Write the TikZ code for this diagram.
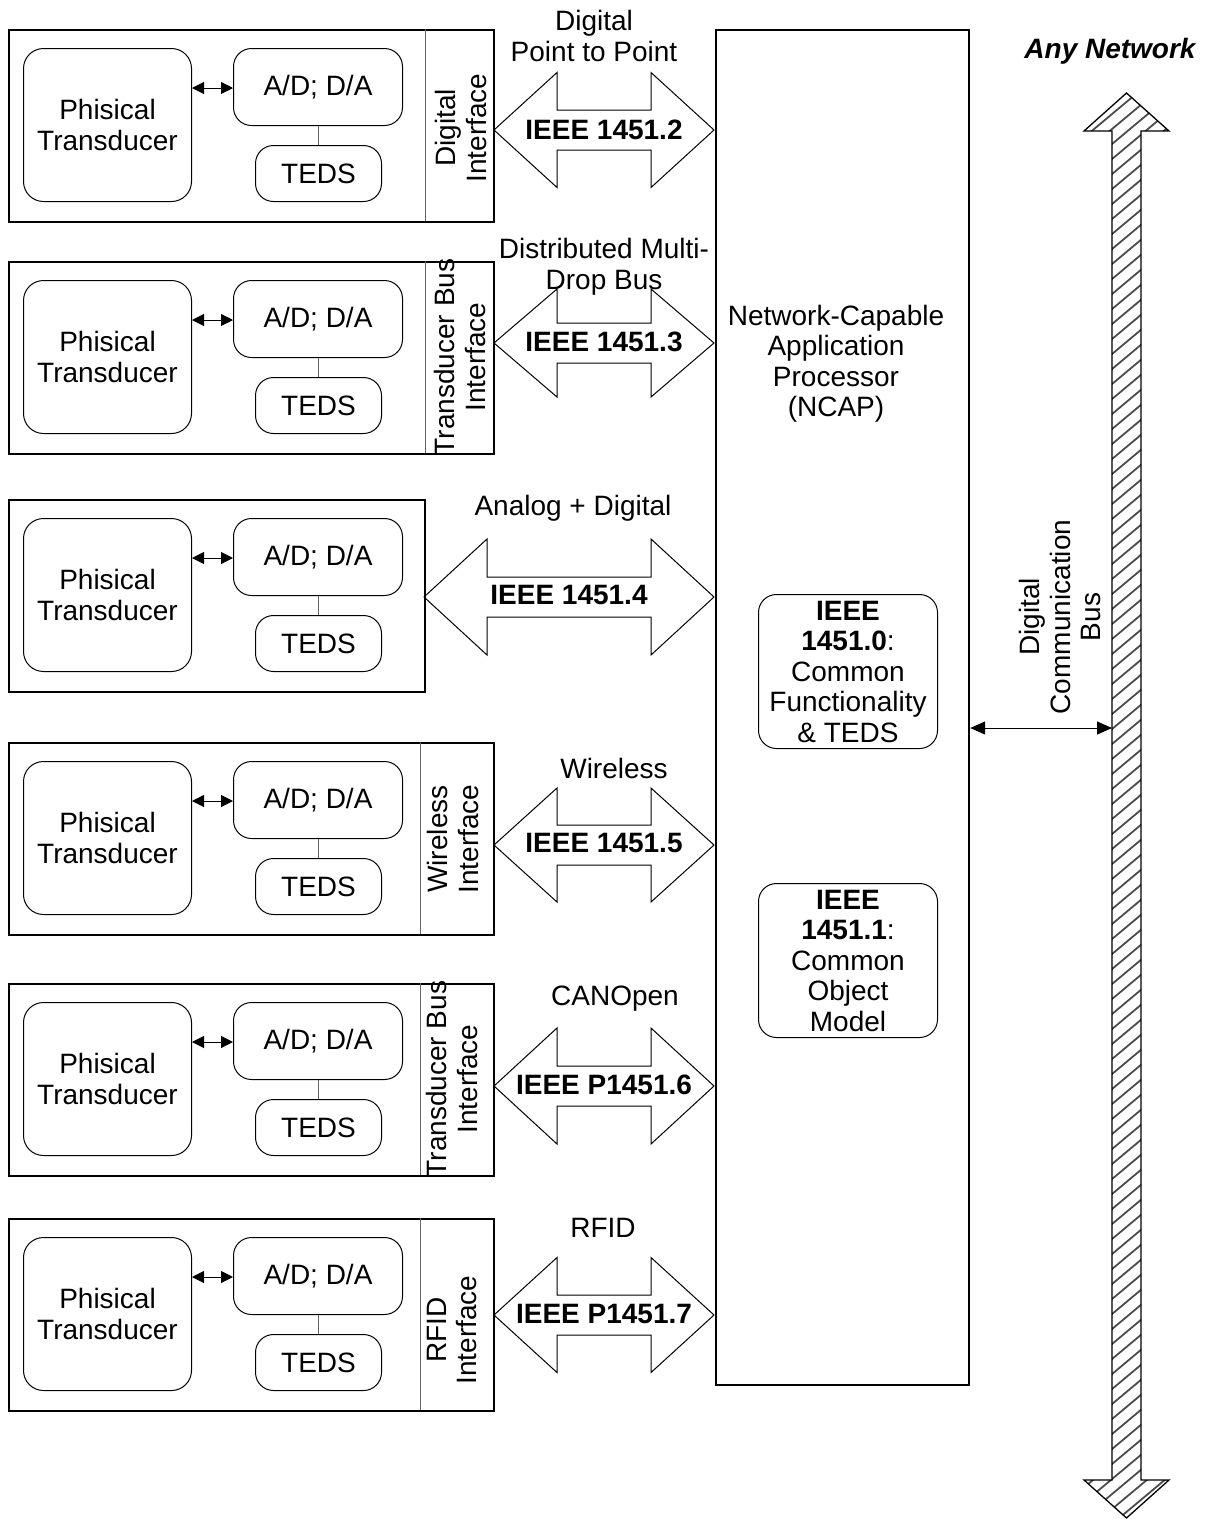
\documentclass[tikz,border=0pt]{standalone}
\usepackage{fontspec}
\setmainfont{Liberation Sans}
\usetikzlibrary{arrows.meta}
\newcommand{\tblock}[3]{%
  \node[outer, anchor=north west, minimum width={#3-8}, minimum height=192] (blk#1) at (8,#2) {};
  \node[rbox, rounded corners=20pt, minimum width=168, minimum height=153, anchor=north west] (pt#1) at (23,{#2+19}) {Phisical\\Transducer};
  \node[rbox, minimum width=169, minimum height=77, anchor=north west] (ad#1) at (233,{#2+19}) {A/D; D/A};
  \node[rbox, minimum width=126, minimum height=56, anchor=north west] (teds#1) at (255,{#2+116}) {TEDS};
  \coordinate (ay#1) at (0,{#2+59});
  \draw[smallarr] (pt#1.east |- ay#1) -- (ad#1.west |- ay#1);
  \draw[thinline] (teds#1.north) -- (teds#1.north |- ad#1.south);
}
\newcommand{\bigarr}[4]{%
  \draw[bigarrow] (#1,#3) -- ({#1+63},{#3-#4}) -- ({#1+63},{#3-20}) -- ({#2-63},{#3-20}) -- ({#2-63},{#3-#4}) -- (#2,#3) -- ({#2-63},{#3+#4}) -- ({#2-63},{#3+20}) -- ({#1+63},{#3+20}) -- ({#1+63},{#3+#4}) -- cycle;
}
\begin{document}
\begin{tikzpicture}[x=1pt,y=-1pt,
  every node/.style={font=\fontsize{28}{30.5}\selectfont, inner sep=0pt, align=center},
  outer/.style={draw, line width=2.2pt, rectangle},
  rbox/.style={draw, line width=1pt, rounded corners=18pt},
  divline/.style={draw=black!60, line width=1pt},
  thinline/.style={draw=black!60, line width=1pt},
  smallarr/.style={line width=1pt, {Triangle[length=12pt,width=12pt]}-{Triangle[length=12pt,width=12pt]}},
  busarr/.style={line width=1pt, {Triangle[length=15pt,width=13pt]}-{Triangle[length=15pt,width=13pt]}},
  bigarrow/.style={draw, line width=1pt, line join=miter},
  blbl/.style={font=\fontsize{28}{30.5}\selectfont\bfseries},
]
\useasboundingbox (0,0) rectangle (1209,1519);

% transducer blocks
\tblock{1}{29}{493}
\tblock{2}{261}{493}
\tblock{3}{499}{424}
\tblock{4}{742}{493}
\tblock{5}{983}{493}
\tblock{6}{1218}{493}

% dividers
\draw[divline] (425,29) -- (425,221);
\draw[divline] (425,261) -- (425,453);
\draw[divline] (420,742) -- (420,934);
\draw[divline] (420,983) -- (420,1175);
\draw[divline] (420,1218) -- (420,1410);

% interface labels
\node[rotate=90] (if1) at (461,128) {Digital\\Interface};
\node[rotate=90] (if2) at (460,357) {Transducer Bus\\Interface};
\node[rotate=90] (if4) at (453,839) {Wireless\\Interface};
\node[rotate=90] (if5) at (452,1079) {Transducer Bus\\Interface};
\node[rotate=90] (if6) at (452,1330) {RFID\\Interface};

% NCAP
\node[outer, anchor=north west, minimum width=253, minimum height=1355] (ncap) at (715,29) {};
\node (ncaptxt) at (836,363.5) {Network-Capable\\Application\\Processor\\(NCAP)};
\node[rbox, minimum width=179, minimum height=154, anchor=north west] (s0) at (758,594) {\textbf{IEEE}\\\textbf{1451.0}:\\Common\\Functionality\\\& TEDS};
\node[rbox, minimum width=179, minimum height=154, anchor=north west] (s1) at (758,883) {\textbf{IEEE}\\\textbf{1451.1}:\\Common\\Object\\Model};

% big double arrows
\bigarr{494}{714}{130}{57.5}
\bigarr{494}{714}{343}{54}
\bigarr{424}{714}{597}{58}
\bigarr{494}{714}{845}{57}
\bigarr{494}{714}{1086}{58}
\bigarr{494}{714}{1315}{57.5}

% arrow labels
\node (t1) at (594,36) {Digital\\Point to Point};
\node (t2) at (604,267) {Distributed Multi-\\Drop Bus};
\node (t3) at (573,508) {Analog + Digital};
\node (t4) at (614,768) {Wireless};
\node (t5) at (615,999) {CANOpen};
\node (t6) at (603,1228) {RFID};
\node[blbl] (b1) at (604,130) {IEEE 1451.2};
\node[blbl] (b2) at (604,342) {IEEE 1451.3};
\node[blbl] (b3) at (569,595) {IEEE 1451.4};
\node[blbl] (b4) at (604,843) {IEEE 1451.5};
\node[blbl] (b5) at (604,1085) {IEEE P1451.6};
\node[blbl] (b6) at (604,1314) {IEEE P1451.7};

% network bus
\begin{scope}
\clip (1126.5,93) -- (1169,131) -- (1141,131) -- (1141,1480) -- (1169,1480) -- (1126.5,1518) -- (1084,1480) -- (1112,1480) -- (1112,131) -- (1084,131) -- cycle;
\foreach \i in {0,...,115} \draw[black!70, line width=1.8pt] (1075,{70+15*\i}) -- ++(110,-92);
\end{scope}
\draw[line width=1.3pt, line join=miter] (1126.5,93) -- (1169,131) -- (1141,131) -- (1141,1480) -- (1169,1480) -- (1126.5,1518) -- (1084,1480) -- (1112,1480) -- (1112,131) -- (1084,131) -- cycle;
\coordinate (busL) at (1112,728);
\draw[busarr] (ncap.east |- busL) -- (busL);
\node[rotate=90] (dcb) at (1060,617) {Digital\\Communication\\Bus};
\node[font=\fontsize{28}{30.5}\selectfont\bfseries\itshape] (anynet) at (1110,51) {Any Network};
\end{tikzpicture}
\end{document}
